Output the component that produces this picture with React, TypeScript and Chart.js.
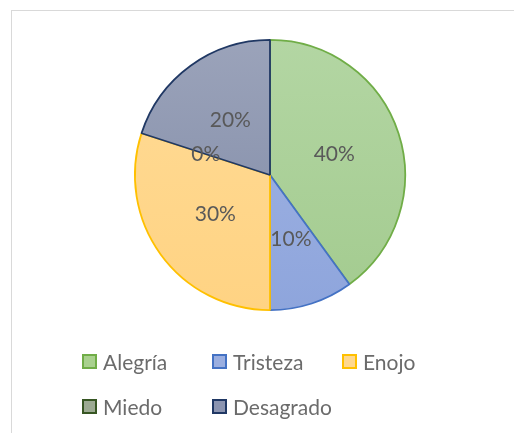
import React, { useEffect, useRef } from "react";
import { Chart, registerables } from "chart.js";

Chart.register(...registerables);

const categories = ["Alegría", "Tristeza", "Enojo", "Miedo", "Desagrado"];
const values = [40, 10, 30, 0, 20];
const fillTop = ["#b3d6a3", "#a3b5e4", "#ffdb96", "#a6b09c", "#9ba3ba"];
const fillBottom = ["#a3cb8f", "#8ea5dc", "#ffd383", "#939f88", "#7f8aa6"];
const borderColors = ["#70ad47", "#4472c4", "#ffc000", "#375623", "#203864"];
const legendFill = ["#a9d18e", "#9aaee0", "#ffd88e", "#9caa92", "#8b94b0"];
const legendRows = [[0, 1, 2], [3, 4]];
const legendCols = [82, 212, 342];
const legendRowY = [361, 406];

const FONT = "Lato, 'Open Sans', sans-serif";

const labelPlugin = {
  id: "pieLabels",
  afterDatasetsDraw(chart: any) {
    const ctx = chart.ctx;
    const meta = chart.getDatasetMeta(0);
    const data = chart.data.datasets[0].data as number[];
    const total = data.reduce((a, b) => a + b, 0);
    ctx.save();
    ctx.font = `21px ${FONT}`;
    ctx.fillStyle = "#595959";
    ctx.textAlign = "center";
    ctx.textBaseline = "middle";
    meta.data.forEach((arc: any, i: number) => {
      const p = arc.tooltipPosition();
      const pct = Math.round((data[i] / total) * 100);
      ctx.fillText(`${pct}%`, p.x, p.y);
    });
    ctx.restore();
  },
};

export default function App() {
  const ref = useRef<HTMLCanvasElement>(null);
  useEffect(() => {
    if (!ref.current) return;
    const chart = new Chart(ref.current, {
      type: "pie",
      data: {
        labels: categories,
        datasets: [
          {
            data: values,
            backgroundColor: (c: any) => {
              const area = c.chart.chartArea;
              if (!area) return fillTop[c.dataIndex];
              const g = c.chart.ctx.createLinearGradient(0, area.top, 0, area.bottom);
              g.addColorStop(0, fillTop[c.dataIndex]);
              g.addColorStop(1, fillBottom[c.dataIndex]);
              return g;
            },
            borderColor: borderColors,
            borderWidth: 1.8,
          },
        ],
      },
      options: {
        animation: false,
        responsive: false,
        maintainAspectRatio: false,
        layout: { padding: { left: 134, right: 108, top: 39, bottom: 122 } },
        plugins: {
          legend: { display: false },
          tooltip: { enabled: false },
        },
      },
      plugins: [labelPlugin],
    });
    return () => chart.destroy();
  }, []);

  return (
    <div style={{ position: "absolute", left: 0, top: 0, width: 514, height: 433, overflow: "hidden", background: "#fff" }}>
      <div style={{ position: "absolute", left: 11, top: 10, width: 600, height: 500, border: "1px solid #d9d9d9" }} />
      <canvas ref={ref} width={514} height={433} style={{ position: "absolute", left: 0, top: 0, width: 514, height: 433 }} />
      {legendRows.map((row, r) =>
        row.map((idx, c) => (
          <div
            key={idx}
            style={{
              position: "absolute",
              left: legendCols[c],
              top: legendRowY[r] - 14,
              height: 28,
              display: "flex",
              alignItems: "center",
              fontFamily: FONT,
              fontSize: 21,
              color: "#6b6b6b",
              whiteSpace: "nowrap",
            }}
          >
            <span
              style={{
                display: "inline-block",
                width: 11,
                height: 11,
                border: `2px solid ${borderColors[idx]}`,
                background: legendFill[idx],
                marginRight: 6,
              }}
            />
            <span>{categories[idx]}</span>
          </div>
        ))
      )}
    </div>
  );
}
